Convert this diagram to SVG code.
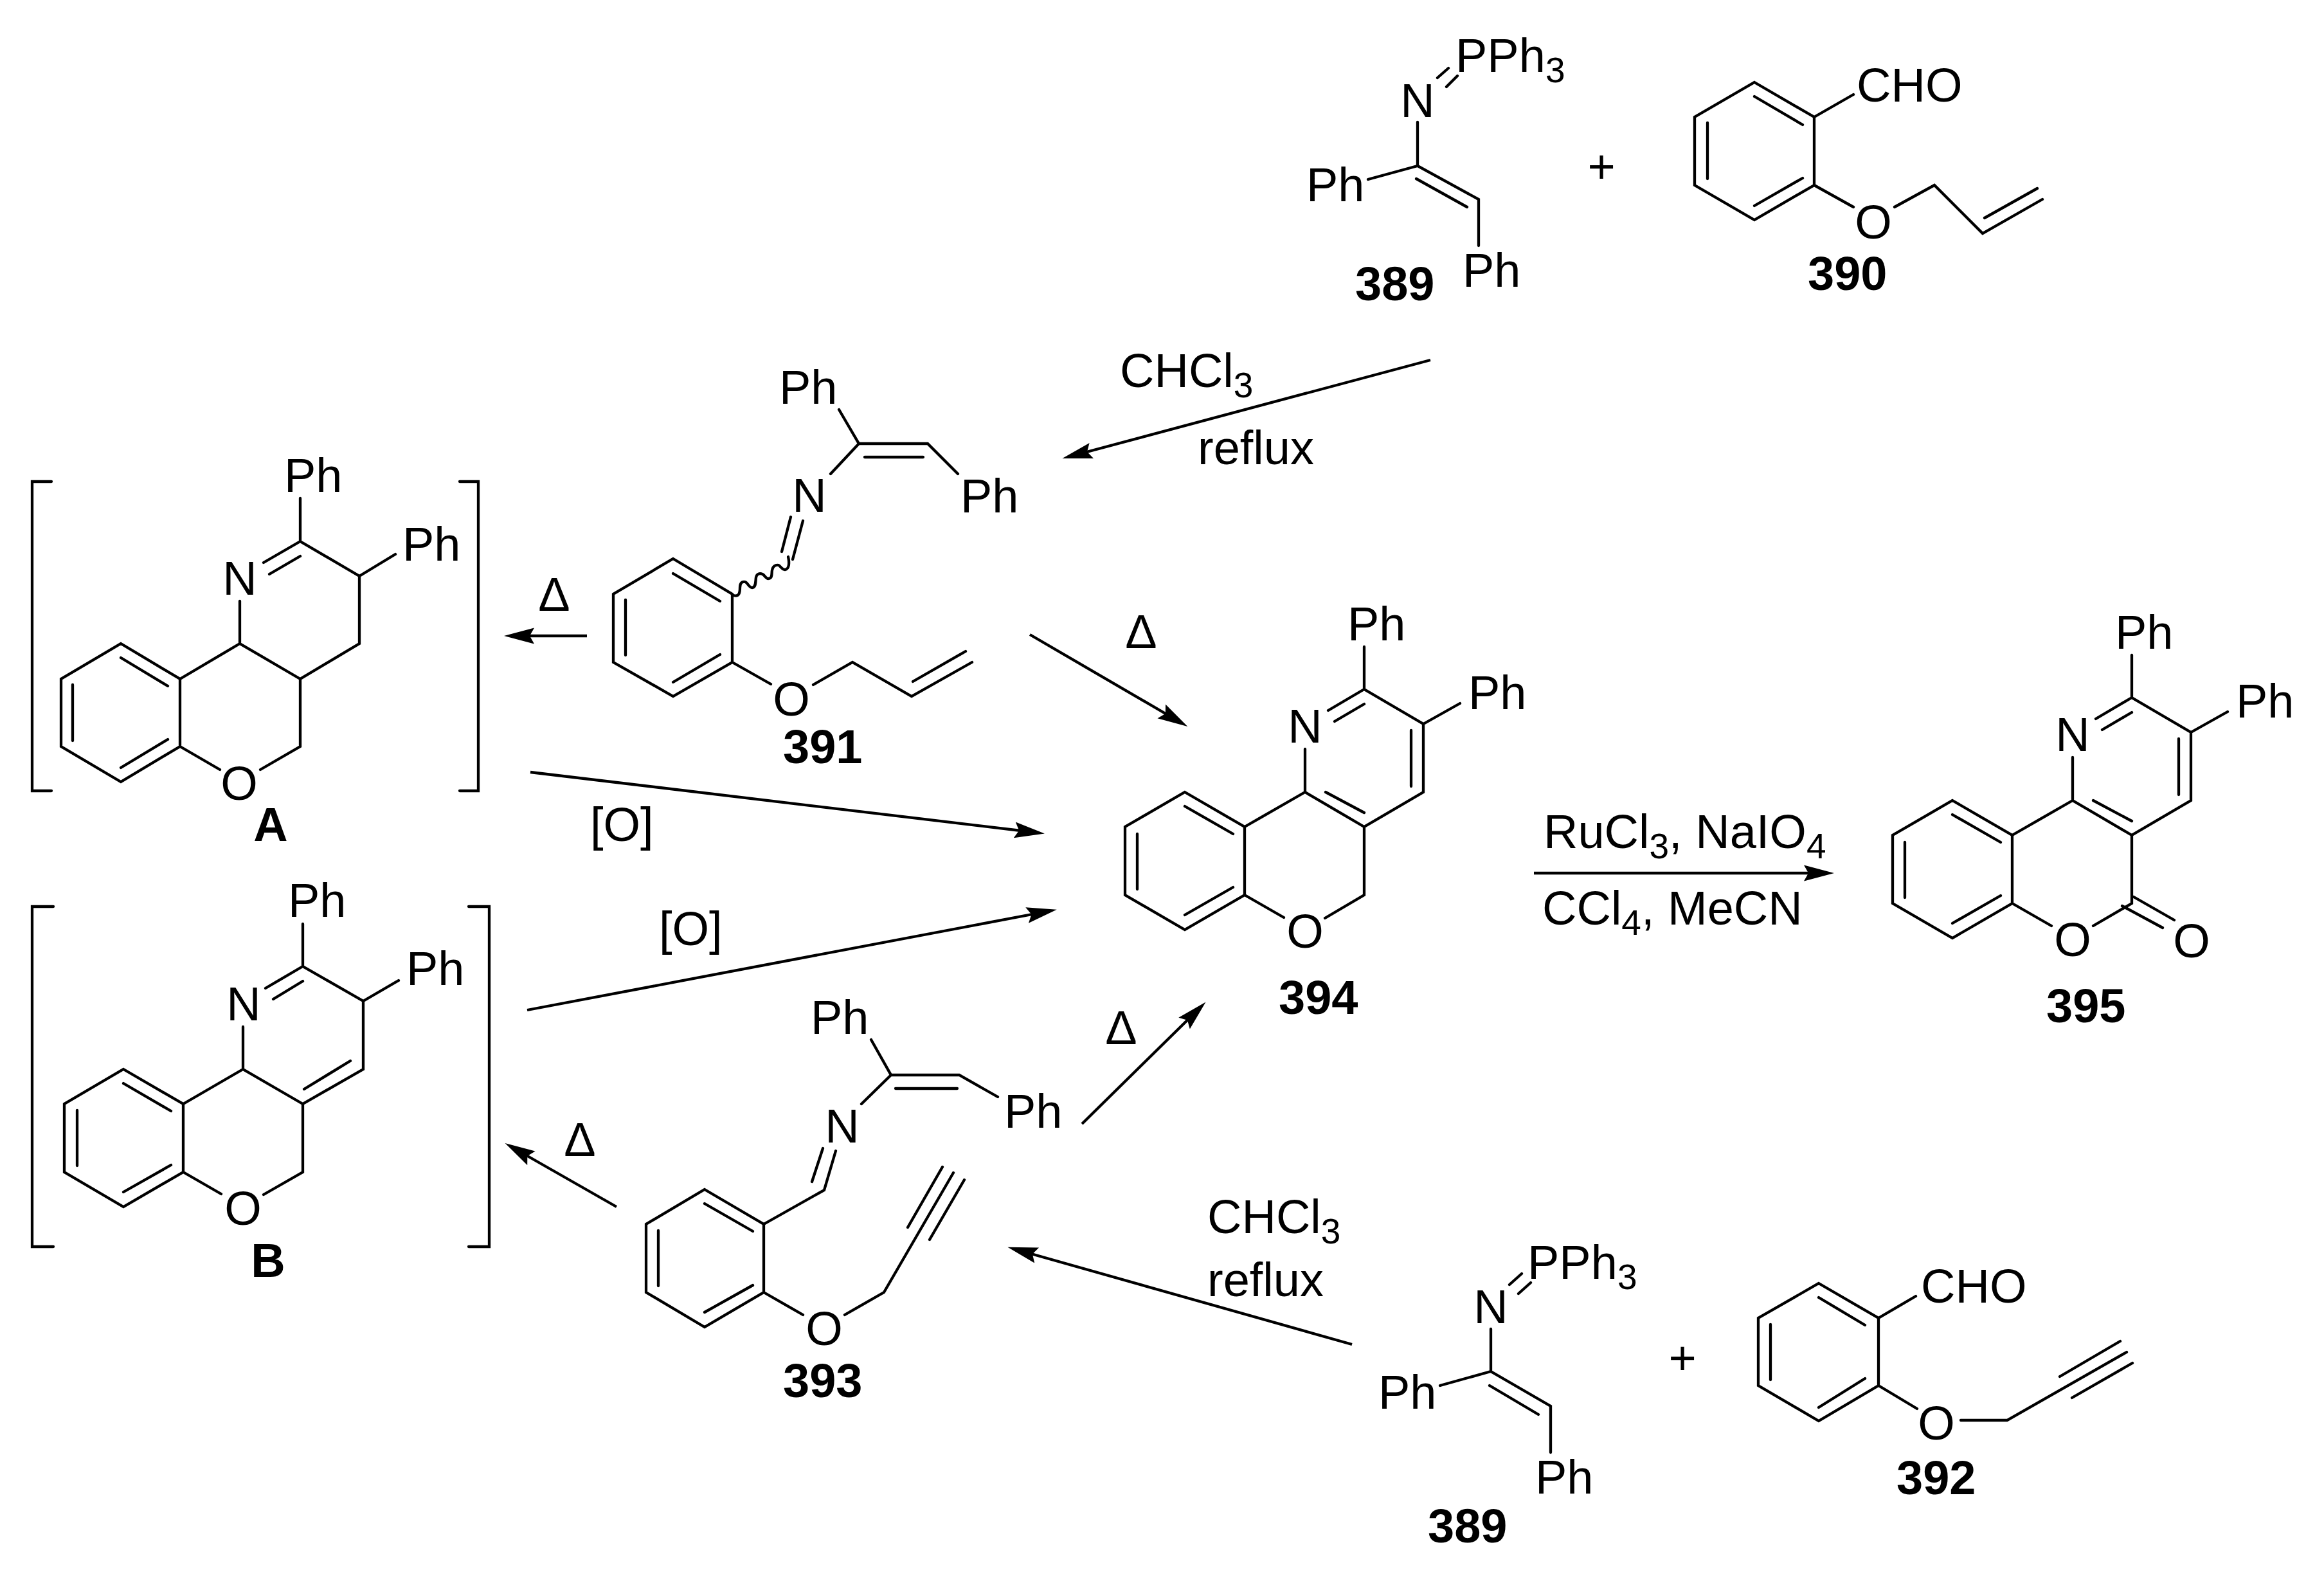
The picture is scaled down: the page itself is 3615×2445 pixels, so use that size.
<svg xmlns="http://www.w3.org/2000/svg" width="3615" height="2445" viewBox="0 0 3615 2445">
<style>
text{font-family:"Liberation Sans",Arial,sans-serif;fill:#000;transform:translate(0,1.5px)}
.t{font-size:74px}
.m{text-anchor:middle}
.l{font-size:74px;font-weight:bold}
.s{font-size:55px}
path{fill:none;stroke:#000;stroke-width:4.3;stroke-linejoin:miter;stroke-linecap:round}
.a{stroke-linecap:butt;marker-end:url(#h)}
</style>
<defs>
<marker id="h" markerUnits="userSpaceOnUse" markerWidth="50" markerHeight="28" refX="35" refY="13" orient="auto">
<polygon points="0,0.500 47,13 0,25.500 7,13" fill="#000"/>
</marker>
</defs>
<rect width="3615" height="2445" fill="#fff"/>
<g id="connectors">
<path class="a" d="M2225 560L1664 710"/>
<path class="a" d="M913 989L796 989"/>
<path class="a" d="M825 1201L1613 1295"/>
<path class="a" d="M1602 987L1837 1124"/>
<path class="a" d="M820 1571L1632 1417"/>
<path class="a" d="M959 1877L796 1784"/>
<path class="a" d="M1683 1748L1867 1567"/>
<path class="a" d="M2103 2091L1579 1943"/>
<path class="a" d="M2386 1358L2841 1358"/>
</g>
<g id="labels">
<text class="t" x="1742" y="600">CHCl<tspan class="s" dy="16">3</tspan></text>
<text class="t" x="1863" y="720">reflux</text>
<text class="t m" x="862" y="948">Δ</text>
<text class="t m" x="1775" y="1006">Δ</text>
<text class="t m" x="1744" y="1622">Δ</text>
<text class="t m" x="902" y="1796">Δ</text>
<text class="t" x="918" y="1306">[O]</text>
<text class="t" x="1025" y="1468">[O]</text>
<text class="t" x="2401" y="1317">RuCl<tspan class="s" dy="16">3</tspan><tspan dy="-16">, NaIO</tspan><tspan class="s" dy="16">4</tspan></text>
<text class="t" x="2399" y="1436">CCl<tspan class="s" dy="16">4</tspan><tspan dy="-16">, MeCN</tspan></text>
<text class="t" x="1878" y="1916">CHCl<tspan class="s" dy="16">3</tspan></text>
<text class="t" x="1878" y="2014">reflux</text>
<text class="t m" x="2491" y="283">+</text>
<text class="t m" x="2617" y="2136">+</text>
</g>
<g id="mol-389-top">
<text class="t" x="2264" y="110">PPh<tspan class="s" dy="16">3</tspan></text>
<text class="t m" x="2205" y="180">N</text>
<text class="t" x="2032" y="311">Ph</text>
<text class="t" x="2275" y="444">Ph</text>
<text class="l" x="2108" y="465">389</text>
<path d="M2236 121L2253 106M2250 135L2267 118M2205 190V258L2300 310V382M2128 279L2205 258M2203 278L2282 322"/>
</g>
<g id="mol-390">
<text class="t" x="2888" y="156">CHO</text>
<text class="t m" x="2914" y="369">O</text>
<text class="l" x="2812" y="449">390</text>
<path d="M2729 128L2822 182V288L2729 342L2636 288V182ZM2729 150L2804 194M2804 277L2729 320M2656 191V278M2822 182L2883 147M2822 288L2883 322M2947 322L3009 288L3084 363L3177 310M3087 339L3169 293"/>
</g>
<g id="mol-391">
<text class="t" x="1212" y="626">Ph</text>
<text class="t" x="1494" y="795">Ph</text>
<text class="t m" x="1259" y="794">N</text>
<text class="t m" x="1231" y="1111">O</text>
<text class="l" x="1218" y="1185">391</text>
<path d="M1305 637L1336 690H1443L1490 737M1345 711H1436M1336 690L1292 737M1230 804L1216 858M1249 810L1233 870"/>
<path d="M1141 926C1150 929 1151 921 1151 914C1151 907 1154 904 1159 905C1163 906 1165 914 1170 914C1176 914 1175 905 1176 898C1177 893 1181 891 1186 893C1190 895 1191 900 1195 900C1202 900 1200 892 1201 887C1202 881 1206 878 1211 879C1214 880 1216 886 1221 886C1228 885 1228 875 1226 866"/>
<path d="M1047 869L1139 924V1030L1047 1083L954 1030V924ZM1047 892L1120 935M1120 1018L1047 1061M973 933V1019M1139 1030L1199 1064M1265 1065L1326 1030L1418 1083L1512 1030M1420 1060L1502 1013"/>
</g>
<g id="mol-A">
<path d="M80 749H50V1230H80M715 749H744V1230H715"/>
<text class="t" x="442" y="763">Ph</text>
<text class="t" x="626" y="870">Ph</text>
<text class="t m" x="373" y="923">N</text>
<text class="t m" x="372" y="1242">O</text>
<text class="l m" x="421" y="1306">A</text>
<path d="M467 775V842L559 896V1001L467 1056V1161L405 1197M559 896L615 862M410 875L467 842M419 893L467 865M373 935V1001L467 1056M373 1001L280 1056"/>
<path d="M188 1001L280 1056V1161L188 1216L95 1161V1056ZM188 1023L261 1067M261 1150L188 1194M113 1065V1152M280 1161L342 1197"/>
</g>
<g id="mol-B">
<path d="M83 1410H50V1939H83M729 1410H761V1939H729"/>
<text class="t" x="448" y="1424">Ph</text>
<text class="t" x="632" y="1530">Ph</text>
<text class="t m" x="379" y="1585">N</text>
<text class="t m" x="378" y="1903">O</text>
<text class="l m" x="417" y="1984">B</text>
<path d="M471 1437V1503L565 1557V1663L471 1717V1823L410 1858M565 1557L620 1525M413 1537L471 1503M425 1554L471 1526M378 1597V1663L471 1717M545 1650L473 1694M378 1663L285 1717"/>
<path d="M192 1663L285 1717V1823L192 1877L100 1823V1717ZM192 1685L266 1728M266 1812L192 1854M120 1727V1813M285 1823L344 1857"/>
</g>
<g id="mol-393">
<text class="t" x="1261" y="1606">Ph</text>
<text class="t" x="1562" y="1752">Ph</text>
<text class="t m" x="1310" y="1775">N</text>
<text class="t m" x="1282" y="2090">O</text>
<text class="l" x="1218" y="2171">393</text>
<path d="M1355 1617L1386 1672H1492L1552 1706M1393 1693H1489M1386 1672L1340 1717M1280 1786L1263 1838M1300 1790L1282 1851L1188 1904"/>
<path d="M1096 1850L1188 1904V2010L1096 2064L1005 2010V1904ZM1096 1872L1171 1915M1171 1999L1096 2041M1024 1914V2000M1188 2010L1249 2045M1314 2045L1375 2010L1483 1824M1412 1909L1466 1815M1446 1928L1500 1835"/>
</g>
<g id="mol-394">
<text class="t" x="2096" y="994">Ph</text>
<text class="t" x="2284" y="1101">Ph</text>
<text class="t m" x="2030" y="1153">N</text>
<text class="t m" x="2030" y="1472">O</text>
<text class="l" x="1989" y="1575">394</text>
<path d="M2122 1006V1072L2214 1126V1232L2122 1286V1392L2061 1428M2066 1105L2122 1072M2076 1122L2122 1095M2214 1126L2271 1094M2195 1136V1223M2030 1165V1232L2122 1286M2062 1232L2122 1264M2030 1232L1936 1286"/>
<path d="M1843 1232L1936 1286V1392L1843 1446L1750 1392V1286ZM1843 1254L1918 1297M1918 1380L1843 1423M1769 1297V1383M1936 1392L1997 1427"/>
</g>
<g id="mol-395">
<text class="t" x="3290" y="1007">Ph</text>
<text class="t" x="3478" y="1114">Ph</text>
<text class="t m" x="3224" y="1166">N</text>
<text class="t m" x="3224" y="1485">O</text>
<text class="t m" x="3409" y="1487">O</text>
<text class="l" x="3183" y="1588">395</text>
<path d="M3316 1019V1085L3408 1139V1245L3316 1299V1405L3256 1440M3260 1118L3316 1085M3270 1135L3316 1108M3408 1139L3465 1107M3389 1149V1236M3224 1178V1245L3316 1299M3256 1245L3316 1277M3224 1245L3130 1299M3319 1395L3382 1431M3301 1409L3364 1443"/>
<path d="M3037 1245L3130 1299V1405L3037 1459L2944 1405V1299ZM3037 1267L3112 1310M3112 1393L3037 1436M2963 1310V1396M3130 1405L3191 1440"/>
</g>
<g id="mol-389-bottom">
<text class="t" x="2376" y="1987">PPh<tspan class="s" dy="16">3</tspan></text>
<text class="t m" x="2319" y="2056">N</text>
<text class="t" x="2144" y="2189">Ph</text>
<text class="t" x="2388" y="2321">Ph</text>
<text class="l" x="2221" y="2397">389</text>
<path d="M2348 1998L2367 1981M2362 2012L2381 1995M2319 2067V2133L2412 2187V2259M2240 2155L2319 2133M2317 2155L2393 2200"/>
</g>
<g id="mol-392">
<text class="t" x="2988" y="2024">CHO</text>
<text class="t m" x="3012" y="2237">O</text>
<text class="l" x="2950" y="2322">392</text>
<path d="M2829 1996L2922 2050V2155L2829 2210L2735 2155V2050ZM2829 2018L2901 2061M2901 2144L2829 2189M2754 2060V2146M2922 2050L2980 2016M2922 2155L2982 2191M3050 2209H3122L3308 2103M3204 2141L3298 2086M3223 2174L3317 2120"/>
</g>
</svg>
